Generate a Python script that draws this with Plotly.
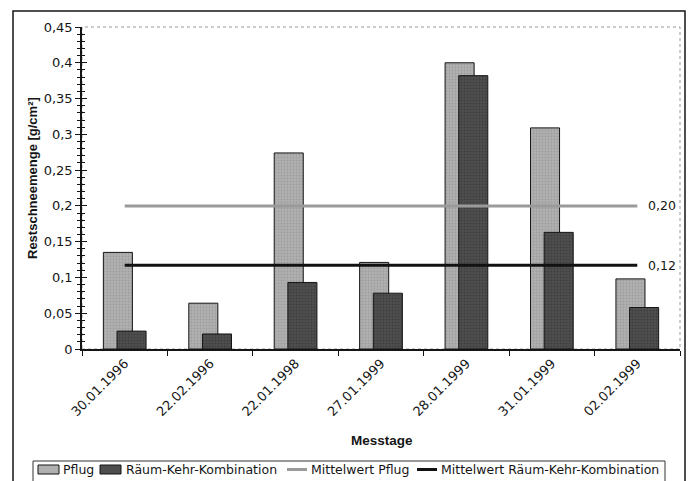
import plotly.graph_objects as go

categories = ["30.01.1996", "22.02.1996", "22.01.1998", "27.01.1999",
              "28.01.1999", "31.01.1999", "02.02.1999"]
pflug = [0.135, 0.064, 0.274, 0.121, 0.400, 0.309, 0.098]
raeum_kehr = [0.025, 0.021, 0.093, 0.078, 0.382, 0.163, 0.058]
series_names = ["Pflug", "Räum-Kehr-Kombination"]
mean_names = ["Mittelwert Pflug", "Mittelwert Räum-Kehr-Kombination"]
mean_values = [0.200, 0.117]
mean_labels = ["0,20", "0,12"]
y_ticks = [0, 0.05, 0.1, 0.15, 0.2, 0.25, 0.3, 0.35, 0.4, 0.45]

W, H = 693, 481
L, R, T, B = 82, 13, 27, 132
pw, ph = W - L - R, H - T - B

def px_x(x):
    return (x - L) / pw

def px_y(y):
    return (H - B - y) / ph

font = "DejaVu Sans, sans-serif"
bold_font = "Liberation Sans, Arial, sans-serif"
ink = "#151515"
bar_fill = ["#b0b0b0", "#4e4e4e"]
bar_dots = ["#8a8a8a", "#2e2e2e"]
line_colors = ["#9a9a9a", "#111111"]

fig = go.Figure()
for vals, name, fill, dots, off in zip([pflug, raeum_kehr], series_names,
                                        bar_fill, bar_dots, [-0.25, -0.09]):
    fig.add_trace(go.Bar(
        x=categories, y=vals, name=name, width=0.34, offset=off,
        marker=dict(color=fill, line=dict(color=ink, width=1),
                    pattern=dict(shape=".", fgcolor=dots, size=3, solidity=0.3)),
        hoverinfo="x+y",
    ))
annotations = []
for name, val, lab, col in zip(mean_names, mean_values, mean_labels, line_colors):
    fig.add_trace(go.Scatter(
        x=[categories[0], categories[-1]], y=[val, val], name=name,
        mode="lines", line=dict(color=col, width=3),
    ))
    annotations.append(dict(text=lab, x=categories[-1], y=val, xref="x", yref="y",
                            xanchor="left", yanchor="middle", xshift=9, showarrow=False,
                            font=dict(family=font, size=12.5, color=ink)))
# invisible trace for the overlaying axis (cross ticks)
fig.add_trace(go.Scatter(x=[categories[0]], y=[None], yaxis="y2",
                         showlegend=False, hoverinfo="skip", mode="lines"))

# ---- custom legend (shapes + text) ----
leg_y = 469.5
shapes = [
    dict(type="rect", xref="paper", yref="paper", x0=0, x1=1, y0=0, y1=1,
         line=dict(color="#999", width=1, dash="dot"), layer="below"),
    dict(type="rect", xref="paper", yref="paper",
         x0=px_x(13), x1=px_x(685), y0=px_y(495), y1=px_y(11),
         line=dict(color=ink, width=1.5), layer="below"),
    dict(type="rect", xref="paper", yref="paper",
         x0=px_x(33), x1=px_x(665), y0=px_y(495), y1=px_y(461),
         line=dict(color="#333", width=1), layer="below"),
]
sym_x = [(38, 59), (100, 121), (287, 307), (417, 437)]
text_x = [61, 124, 309, 439]
labels = series_names + mean_names
for i, ((x0, x1), tx, lab) in enumerate(zip(sym_x, text_x, labels)):
    if i < 2:
        shapes.append(dict(type="rect", xref="paper", yref="paper",
                           x0=px_x(x0), x1=px_x(x1), y0=px_y(leg_y + 4.5), y1=px_y(leg_y - 4.5),
                           fillcolor=bar_fill[i], line=dict(color=ink, width=1)))
    else:
        shapes.append(dict(type="line", xref="paper", yref="paper",
                           x0=px_x(x0), x1=px_x(x1), y0=px_y(leg_y), y1=px_y(leg_y),
                           line=dict(color=line_colors[i - 2], width=3)))
    annotations.append(dict(text=lab, xref="paper", yref="paper", x=px_x(tx), y=px_y(leg_y),
                            xanchor="left", yanchor="middle", showarrow=False,
                            font=dict(family=font, size=12.5, color=ink)))
# axis titles
annotations.append(dict(text="<b>Restschneemenge [g/cm²]</b>", xref="paper", yref="paper",
                        x=px_x(32), y=px_y(178), textangle=-90, showarrow=False,
                        xanchor="center", yanchor="middle",
                        font=dict(family=bold_font, size=13, color=ink)))
annotations.append(dict(text="<b>Messtage</b>", xref="paper", yref="paper",
                        x=px_x(382), y=px_y(440), showarrow=False,
                        xanchor="center", yanchor="middle",
                        font=dict(family=bold_font, size=13.5, color=ink)))

fig.update_layout(
    width=W, height=H,
    margin=dict(l=L, r=R, t=T, b=B, autoexpand=False),
    paper_bgcolor="white", plot_bgcolor="white",
    barmode="overlay",
    separators=", ",
    font=dict(family=font, size=12, color=ink),
    showlegend=False,
    xaxis=dict(
        type="category", range=[-0.5, 6.5], automargin=False,
        showline=True, linecolor=ink, linewidth=1.5,
        ticks="outside", ticklen=5, tickcolor=ink, tickson="boundaries",
        tickangle=-45, tickfont=dict(family=font, size=13, color=ink),
        showgrid=False, zeroline=False,
    ),
    yaxis=dict(
        range=[0, 0.45], tickvals=y_ticks, automargin=False,
        showline=True, linecolor=ink, linewidth=1.5,
        ticks="outside", ticklen=5, tickcolor=ink,
        minor=dict(dtick=0.01, ticks="outside", ticklen=3, tickcolor=ink),
        tickfont=dict(family=font, size=13, color=ink),
        showgrid=False, zeroline=False,
    ),
    yaxis2=dict(
        overlaying="y", side="left", range=[0, 0.45], tickvals=y_ticks, automargin=False,
        showticklabels=False, ticks="inside", ticklen=5, tickcolor=ink,
        minor=dict(dtick=0.01, ticks="inside", ticklen=3, tickcolor=ink),
        showgrid=False, zeroline=False, showline=False,
    ),
    shapes=shapes,
    annotations=annotations,
)

fig.write_html("out.html",
               config={"displayModeBar": False},
               post_script="document.body.style.margin='0';"
                           "document.documentElement.style.overflow='hidden';")
